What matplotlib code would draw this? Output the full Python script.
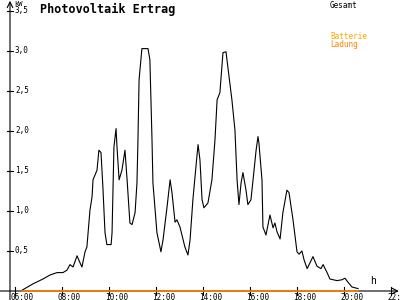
import numpy as np
import matplotlib
matplotlib.use('Agg')
import matplotlib.pyplot as plt

# Gesamt (total) output, hours vs kW
hours = [6.30, 6.77, 7.19, 7.49, 7.79, 8.04, 8.21, 8.34, 8.47, 8.64, 8.77, 8.85,
         8.98, 9.06, 9.19, 9.28, 9.32, 9.49, 9.57, 9.66, 9.74, 9.83, 9.91, 10.09,
         10.13, 10.21, 10.30, 10.34, 10.43, 10.55, 10.68, 10.77, 10.89, 10.98, 11.11,
         11.19, 11.23, 11.28, 11.40, 11.66, 11.74, 11.83, 11.87, 12.04, 12.21, 12.30,
         12.47, 12.60, 12.68, 12.81, 12.89, 13.02, 13.23, 13.36, 13.45, 13.57, 13.74,
         13.79, 13.87, 13.96, 14.04, 14.21, 14.38, 14.51, 14.60, 14.72, 14.85, 14.98,
         15.02, 15.23, 15.36, 15.45, 15.53, 15.62, 15.70, 15.83, 15.91, 16.04, 16.13,
         16.26, 16.34, 16.38, 16.51, 16.55, 16.68, 16.85, 16.98, 17.06, 17.15, 17.28,
         17.40, 17.57, 17.66, 17.83, 18.00, 18.09, 18.21, 18.30, 18.43, 18.55, 18.68,
         18.85, 19.02, 19.11, 19.28, 19.40, 19.70, 19.91, 20.04, 20.17, 20.34, 20.47,
         20.60]
gesamt = [0.01, 0.09, 0.15, 0.20, 0.23, 0.23, 0.26, 0.33, 0.30, 0.44, 0.35, 0.30,
          0.49, 0.55, 1.01, 1.18, 1.39, 1.51, 1.76, 1.73, 1.30, 0.73, 0.58, 0.58,
          0.73, 1.80, 2.03, 1.80, 1.39, 1.51, 1.76, 1.39, 0.85, 0.83, 0.98,
          1.35, 1.85, 2.64, 3.03, 3.03, 2.89, 1.89, 1.35, 0.73, 0.49, 0.64,
          1.05, 1.39, 1.23, 0.86, 0.89, 0.80, 0.55, 0.45, 0.64, 1.14, 1.68,
          1.83, 1.64, 1.14, 1.04, 1.10, 1.39, 1.89, 2.39, 2.48, 2.98, 2.99,
          2.89, 2.39, 2.01, 1.39, 1.08, 1.35, 1.48, 1.26, 1.08, 1.14, 1.39,
          1.76, 1.93, 1.85, 1.39, 0.80, 0.70, 0.95, 0.79, 0.85, 0.74, 0.65,
          0.98, 1.26, 1.23, 0.89, 0.49, 0.46, 0.50, 0.39, 0.28, 0.35, 0.43,
          0.31, 0.28, 0.33, 0.23, 0.15, 0.13, 0.14, 0.16, 0.11, 0.05, 0.04,
          0.03]
# Batterie Ladung stays at zero
ladung_hours = [6.30, 20.60]
ladung = [0.0, 0.0]

xticks = [6, 8, 10, 12, 14, 16, 18, 20, 22]
xlabels = ['06:00', '08:00', '10:00', '12:00', '14:00', '16:00', '18:00', '20:00', '22:00']
yticks = [0.5, 1.0, 1.5, 2.0, 2.5, 3.0, 3.5]
ylabels = ['0,5', '1,0', '1,5', '2,0', '2,5', '3,0', '3,5']

mono = 'DejaVu Sans Mono'
fig = plt.figure(figsize=(4, 3), dpi=100)
ax = fig.add_axes([0, 0, 1, 1])
x0, x1 = 5.362, 22.383
y0, y1 = -0.1125, 3.6375
ax.set_xlim(x0, x1)
ax.set_ylim(y0, y1)
ax.axis('off')

px = 1 / 23.5   # one pixel in hours
py = 1 / 80.0   # one pixel in kW
yax = 6 - 5 * px

# axes with arrows
ax.annotate('', xy=(yax, y1 - 0.01), xytext=(yax, y0),
            arrowprops=dict(arrowstyle='->', lw=0.8, color='black', shrinkA=0, shrinkB=0))
ax.annotate('', xy=(x1 - 0.05, 0), xytext=(x0, 0),
            arrowprops=dict(arrowstyle='->', lw=0.8, color='black', shrinkA=0, shrinkB=0))

for t, lab in zip(xticks, xlabels):
    ax.plot([t, t], [-4 * py, 4 * py], color='black', lw=0.8)
    ax.text(t - 4 * px, -1.5 * py, lab, fontsize=5.5, family=mono, ha='left', va='top')
for v, lab in zip(yticks, ylabels):
    ax.plot([yax - 3 * px, yax + 3 * px], [v, v], color='black', lw=0.8)
    ax.text(yax + 5 * px, v, lab, fontsize=5.5, family=mono, ha='left', va='center')
ax.text(yax + 4 * px, y1 - 0.5 * py, 'kW', fontsize=5, family=mono, ha='left', va='top')
ax.text(21.25, 0.06, 'h', fontsize=7, family=mono, ha='center', va='bottom')

ax.plot(hours, gesamt, color='black', lw=0.8)
ax.plot(ladung_hours, ladung, color='#ff8000', lw=1.2, zorder=5)

ax.text(6 + 25 * px, y1 - 3 * py, 'Photovoltaik Ertrag', fontsize=8.5, family=mono,
        fontweight='bold', ha='left', va='top')
ax.text(6 + 315 * px, y1 - 1 * py, 'Gesamt', fontsize=5.5, family=mono, ha='left', va='top')
ax.text(6 + 315 * px, y1 - 32 * py, 'Batterie', fontsize=5.5, family=mono, color='#ffa500',
        ha='left', va='top')
ax.text(6 + 315 * px, y1 - 40 * py, 'Ladung', fontsize=5.5, family=mono, color='#ff8000',
        ha='left', va='top')

fig.savefig('out.png', dpi=100, facecolor='white')
